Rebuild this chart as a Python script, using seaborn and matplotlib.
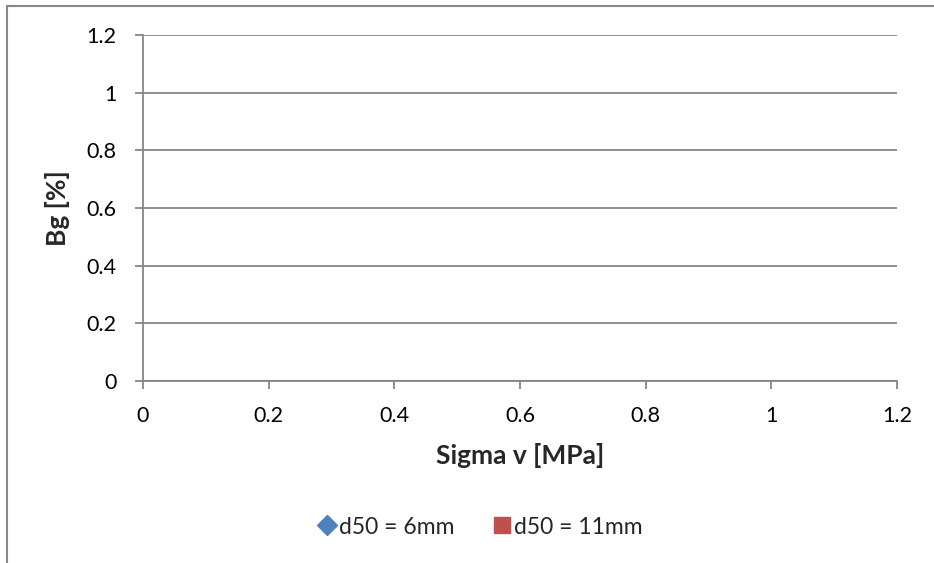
import matplotlib
matplotlib.use("Agg")
import matplotlib.pyplot as plt
import seaborn as sns
import pandas as pd
from matplotlib.lines import Line2D

# Measured series (no samples recorded yet)
sigma_v_6mm = []
bg_6mm = []
sigma_v_11mm = []
bg_11mm = []

series_labels = ["d50 = 6mm", "d50 = 11mm"]
series_colors = ["#4F81BD", "#C0504D"]
series_markers = ["D", "s"]

x_ticks = [0, 0.2, 0.4, 0.6, 0.8, 1, 1.2]
y_ticks = [0, 0.2, 0.4, 0.6, 0.8, 1, 1.2]
x_tick_labels = ["0", "0.2", "0.4", "0.6", "0.8", "1", "1.2"]
y_tick_labels = ["0", "0.2", "0.4", "0.6", "0.8", "1", "1.2"]

sns.set_style("white")
plt.rcParams["font.family"] = ["Lato", "DejaVu Sans"]

grey = "#868686"

fig = plt.figure(figsize=(9.34, 5.63), dpi=100)
ax = fig.add_axes([143 / 934, 1 - 381 / 563, (897 - 143) / 934, (381 - 35) / 563])

df = pd.DataFrame({
    "x": list(sigma_v_6mm) + list(sigma_v_11mm),
    "y": list(bg_6mm) + list(bg_11mm),
    "series": [series_labels[0]] * len(sigma_v_6mm) + [series_labels[1]] * len(sigma_v_11mm),
})
for lab, col, mk in zip(series_labels, series_colors, series_markers):
    sub = df[df["series"] == lab]
    if len(sub):
        sns.scatterplot(data=sub, x="x", y="y", color=col, marker=mk, ax=ax, legend=False)

ax.set_xlim(0, 1.2)
ax.set_ylim(0, 1.2)
ax.set_xticks(x_ticks)
ax.set_xticklabels(x_tick_labels)
ax.set_yticks(y_ticks)
ax.set_yticklabels(y_tick_labels)

ax.yaxis.grid(True, color=grey, linewidth=1.3)
ax.xaxis.grid(False)
ax.set_axisbelow(True)
for s in ["top", "right"]:
    ax.spines[s].set_visible(False)
for s in ["left", "bottom"]:
    ax.spines[s].set_color(grey)
    ax.spines[s].set_linewidth(1.3)

ax.tick_params(axis="both", direction="out", length=6, width=1.3, color=grey,
               labelsize=15.5, labelcolor="black")
ax.tick_params(axis="x", bottom=True, pad=12)
ax.tick_params(axis="y", left=True, pad=13)

ax.set_xlabel("Sigma v [MPa]", fontsize=19, fontweight="bold", labelpad=12)
ax.set_ylabel("Bg [%]", fontsize=19, fontweight="bold", labelpad=12)

handles = [
    Line2D([], [], linestyle="none", marker=m, color=c, markersize=11 if m == "s" else 10,
           label=l)
    for l, c, m in zip(series_labels, series_colors, series_markers)
]
fig.legend(handles=handles, loc="center", bbox_to_anchor=(479 / 934, 1 - 527 / 563),
           ncol=2, frameon=False, fontsize=16.5, handletextpad=0.0, columnspacing=1.6,
           handlelength=1.0)

# outer chart frame
fig.add_artist(Line2D([7 / 934, 7 / 934], [0, 1 - 6 / 563], transform=fig.transFigure,
                      color=grey, linewidth=1.5))
fig.add_artist(Line2D([7 / 934, 1], [1 - 6 / 563, 1 - 6 / 563], transform=fig.transFigure,
                      color=grey, linewidth=1.5))

fig.savefig("out.png", dpi=100)
